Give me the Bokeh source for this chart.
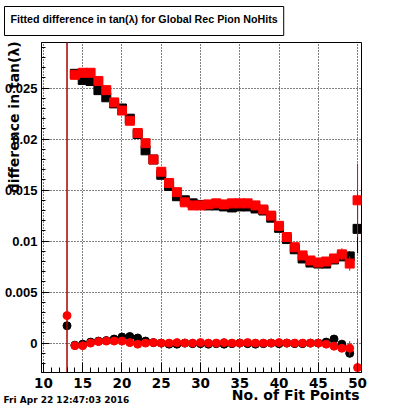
import math
from bokeh.plotting import figure
from bokeh.models import Range1d, FixedTicker, Title, ColumnDataSource
from bokeh.embed import file_html
from bokeh.resources import INLINE

# ---------------- data ----------------
x_upper = list(range(14, 51))
black_upper = [0.0264, 0.0258, 0.0257, 0.0248, 0.0241, 0.0235, 0.0230, 0.0220, 0.0205, 0.0189,
               0.0180, 0.0165, 0.0154, 0.0144, 0.0140, 0.0137, 0.01355, 0.0135, 0.0135, 0.0134,
               0.0133, 0.0134, 0.0134, 0.0132, 0.0130, 0.0123, 0.0113, 0.0102, 0.0092, 0.0083,
               0.0079, 0.0078, 0.0078, 0.0082, 0.0085, 0.0085, 0.0112]
black_upper_err = [0.0002] * 35 + [0.0005, 0.0024]
red_upper = [0.0263, 0.0265, 0.0265, 0.0257, 0.0248, 0.0236, 0.0228, 0.0218, 0.0206, 0.0196,
             0.0180, 0.0168, 0.0157, 0.0148, 0.0138, 0.0135, 0.0135, 0.0136, 0.0137, 0.0136,
             0.0137, 0.0137, 0.0137, 0.0135, 0.0131, 0.0125, 0.0115, 0.0104, 0.0094, 0.0086,
             0.0081, 0.0079, 0.0080, 0.0083, 0.0087, 0.0078, 0.0140]
red_upper_err = [0.0002] * 34 + [0.0006, 0.0007, 0.0036]

x_lower = list(range(13, 51))
black_lower = [0.0017, -0.0002, -0.0001, 0.0001, 0.0002, 0.00025, 0.0004, 0.0006, 0.00065, 0.0005,
               0.0002, 0.00005, 0.0, -0.0001, -0.0001, 0.0, -0.00005, -0.00005, -0.0001, -0.00005,
               -0.0001, -0.00005, 0.0, -0.00005, -0.0001, -0.00005, 0.0, -0.00005, 0.0, -0.00005,
               -0.00005, 0.0, 0.0, 0.0001, 0.0004, -0.0001, -0.0010, float("nan")]
black_lower_err = [0.05] + [0.0001] * 37
red_lower = [0.0027, -0.00025, -0.00025, 0.0, 0.00015, 0.0002, 0.0002, 0.0002, 0.00005, -0.0001,
             0.0, 0.00005, 0.0, 0.0, 0.00005, 0.0, 0.0, 0.00005, 0.0, 0.0,
             0.00005, 0.0, 0.0, 0.00005, 0.0, 0.0, 0.0, 0.00005, 0.0, 0.0,
             0.0, 0.0, 0.0, -0.0001, -0.0003, -0.0005, -0.0005, -0.0024]
red_lower_err = [0.05] + [0.0001] * 35 + [0.0007, 0.0028]

x_major = [10, 15, 20, 25, 30, 35, 40, 45, 50]
x_minor = list(range(10, 51))
y_major = [0.0, 0.005, 0.01, 0.015, 0.02, 0.025]
y_major_labels = ["0", "0.005", "0.01", "0.015", "0.02", "0.025"]
y_minor = [round(-0.002 + 0.001 * i, 4) for i in range(32)]

title_text = "Fitted difference in tan(\u03bb) for Global Rec Pion NoHits"
ytitle_text = "difference in tan(\u03bb)"
xtitle_text = "No. of Fit Points"
date_text = "Fri Apr 22 12:47:03 2016"

FONT = "DejaVu Sans"
FONT2 = "Liberation Sans"

# ---------------- figure ----------------
p = figure(width=392, height=406, output_backend="svg", toolbar_location=None,
           title_location=None,
           x_range=Range1d(9.75, 50.5), y_range=Range1d(-0.00288, 0.02947),
           min_border_left=41, min_border_right=31, min_border_top=42, min_border_bottom=34)
p.outline_line_color = "black"
p.outline_line_width = 1
p.background_fill_color = "white"
p.border_fill_color = "white"

p.xaxis.ticker = FixedTicker(ticks=x_major, minor_ticks=x_minor)
p.xaxis.major_tick_in = 10
p.xaxis.major_tick_out = 0
p.xaxis.minor_tick_in = 5
p.xaxis.minor_tick_out = 0
p.xaxis.axis_line_color = "black"
p.xaxis.major_tick_line_color = "black"
p.xaxis.minor_tick_line_color = "black"
p.xaxis.major_label_text_font = FONT
p.xaxis.major_label_text_font_style = "bold"
p.xaxis.major_label_text_font_size = "13.5px"
p.xaxis.major_label_text_color = "black"
p.xaxis.major_label_standoff = 5

p.yaxis.ticker = FixedTicker(ticks=y_major, minor_ticks=y_minor)
p.yaxis.major_label_overrides = {t: s for t, s in zip(y_major, y_major_labels)}
p.yaxis.major_tick_in = 8
p.yaxis.major_tick_out = 0
p.yaxis.minor_tick_in = 4
p.yaxis.minor_tick_out = 0
p.yaxis.axis_line_color = "black"
p.yaxis.major_tick_line_color = "black"
p.yaxis.minor_tick_line_color = "black"
p.yaxis.major_label_text_font = FONT2
p.yaxis.major_label_text_font_style = "bold"
p.yaxis.major_label_text_font_size = "13px"
p.yaxis.major_label_text_color = "black"
p.yaxis.major_label_standoff = 4

# y title: axis label pulled over the tick labels and pushed toward the top end,
# as ROOT draws it (leading no-break spaces shift the centred label upward)
p.yaxis.axis_label = "\u00a0" * 37 + ytitle_text
p.yaxis.axis_label_text_font = FONT
p.yaxis.axis_label_text_font_style = "bold"
p.yaxis.axis_label_text_font_size = "14px"
p.yaxis.axis_label_text_color = "black"
p.yaxis.axis_label_standoff = -20

for g in (p.xgrid, p.ygrid):
    g.grid_line_color = "black"
    g.grid_line_dash = "1 2"
    g.grid_line_width = 1

# ---------------- series ----------------
def draw(x, y, err, color, marker, size):
    y0 = [v - e for v, e in zip(y, err)]
    y1 = [v + e for v, e in zip(y, err)]
    src = ColumnDataSource(dict(x=x, y=y, y0=y0, y1=y1))
    p.segment(x0="x", y0="y0", x1="x", y1="y1", source=src, line_color=color, line_width=1)
    p.scatter(x="x", y="y", source=src, marker=marker, size=size,
              fill_color=color, line_color=color)

draw(x_upper, black_upper, black_upper_err, "black", "square", 9)
draw(x_lower, black_lower, black_lower_err, "black", "circle", 8)
draw(x_upper, red_upper, red_upper_err, "red", "square", 9)
draw(x_lower, red_lower, red_lower_err, "red", "circle", 8)

# ---------------- titles in the side panels ----------------
p.add_layout(Title(text=title_text, align="left", vertical_align="top", offset=-37, standoff=10,
                   text_font=FONT2, text_font_style="bold", text_font_size="10.7px",
                   text_color="black", border_line_color="black", border_line_width=1,
                   background_fill_color="white",
                   padding=dict(left=6, right=6, top=6, bottom=11)), "above")

p.add_layout(Title(text=xtitle_text, align="right", vertical_align="top", offset=2, standoff=-8,
                   text_font=FONT, text_font_style="bold", text_font_size="14px",
                   text_color="black"), "below")

p.add_layout(Title(text=date_text, align="left", vertical_align="top", offset=-38, standoff=-12,
                   text_font=FONT, text_font_style="bold", text_font_size="9px",
                   text_color="black"), "below")

open("out.html", "w").write(file_html(p, INLINE))
